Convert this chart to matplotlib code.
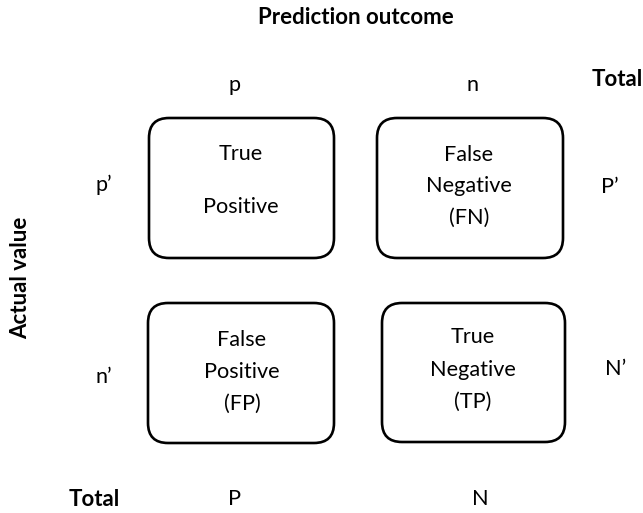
import matplotlib
matplotlib.use("Agg")
import matplotlib.pyplot as plt
from matplotlib.patches import FancyBboxPatch

plt.rcParams['font.family'] = ['Lato', 'DejaVu Sans']

title_top = "Prediction outcome"
title_left = "Actual value"
col_labels = ["p", "n"]
row_labels = ["p\u2019", "n\u2019"]
row_totals = ["P\u2019", "N\u2019"]
col_totals = ["P", "N"]
total_label = "Total"
cell_lines = [[["True", "Positive"], ["False", "Negative", "(FN)"]],
              [["False", "Positive", "(FP)"], ["True", "Negative", "(TP)"]]]

# layout (pixel coordinates)
box_l = [[149, 377], [148, 382]]
box_r = [[334, 563], [334, 565]]
box_t = [[118, 118], [303, 303]]
box_b = [[258, 258], [443, 442]]
line_y = [[[152, 205], [153, 184, 216]],
          [[338, 370, 402], [335, 368, 400]]]
text_x = [[241, 469], [242, 473]]
col_x = [234, 472]
col_tot_x = [234, 480]
row_y = [183, 375]
row_tot_y = [185, 367]
row_tot_x = [610, 616]

fig = plt.figure(figsize=(6.43, 5.13), dpi=100)
ax = fig.add_axes([0, 0, 1, 1])
ax.set_xlim(0, 643)
ax.set_ylim(513, 0)
ax.axis('off')

fs = 15.6
fb = 16
va = 'center_baseline'
ax.text(356, 16, title_top, ha='center', va=va, fontsize=fb, fontweight='bold')
ax.text(21, 278, title_left, ha='center', va='center', fontsize=fb,
        fontweight='bold', rotation=90)
ax.text(617, 78, total_label, ha='center', va=va, fontsize=fb, fontweight='bold')
ax.text(94, 498, total_label, ha='center', va=va, fontsize=fb, fontweight='bold')

for j, lab in enumerate(col_labels):
    ax.text(col_x[j], 83, lab, ha='center', va=va, fontsize=fs)
for j, lab in enumerate(col_totals):
    ax.text(col_tot_x[j], 497, lab, ha='center', va=va, fontsize=fs)
for i, lab in enumerate(row_labels):
    ax.text(104, row_y[i], lab, ha='center', va=va, fontsize=fs)
for i, lab in enumerate(row_totals):
    ax.text(row_tot_x[i], row_tot_y[i], lab, ha='center', va=va, fontsize=fs)

pad = 20
for i in range(2):
    for j in range(2):
        x, y = box_l[i][j], box_t[i][j]
        w = box_r[i][j] - x
        h = box_b[i][j] - y
        p = FancyBboxPatch((x + pad, y + pad), w - 2 * pad, h - 2 * pad,
                           boxstyle=f"round,pad={pad},rounding_size={pad}",
                           fc='white', ec='black', lw=1.9)
        ax.add_patch(p)
        for k, line in enumerate(cell_lines[i][j]):
            ax.text(text_x[i][j], line_y[i][j][k], line, ha='center', va=va,
                    fontsize=fs)

fig.savefig("out.png", dpi=100)
